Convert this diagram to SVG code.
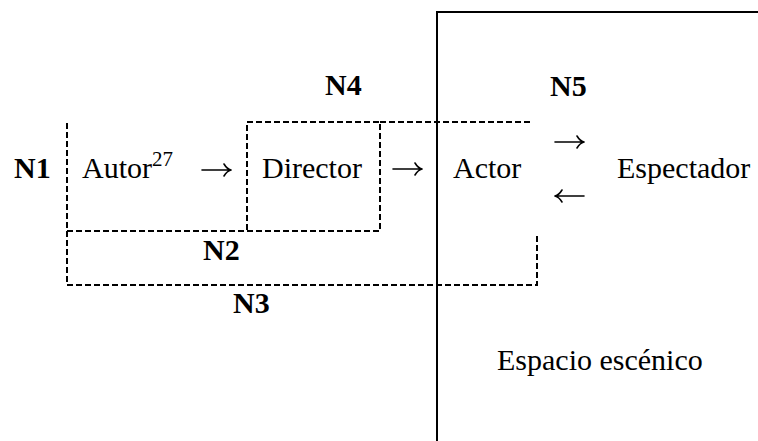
<svg xmlns="http://www.w3.org/2000/svg" width="758" height="441" viewBox="0 0 758 441">
<style>
.t{font-family:"Liberation Serif","Times New Roman",serif;font-size:30px;fill:#000}
.b{font-weight:bold}
.d{fill:none;stroke:#000;stroke-width:2;stroke-dasharray:6 3}
.s{fill:none;stroke:#000;stroke-width:2}
.a{fill:none;stroke:#000;stroke-width:1.6;stroke-linecap:round;stroke-linejoin:round}
</style>
<rect width="758" height="441" fill="#fff"/>
<g id="stage">
<path class="s" d="M437,441 V12 H758"/>
<text class="t" x="497" y="370">Espacio escénico</text>
</g>
<g id="levels">
<path class="d" d="M67,123 V285 H537 V233"/>
<path class="d" d="M67,231 H380 V122 H247 V231"/>
<path class="d" d="M380,122 H533"/>
</g>
<g id="n1"><text class="t b" x="14" y="178">N1</text></g>
<g id="n2"><text class="t b" x="203" y="260">N2</text></g>
<g id="n3"><text class="t b" x="233" y="313">N3</text></g>
<g id="n4"><text class="t b" x="325" y="95">N4</text></g>
<g id="n5"><text class="t b" x="550" y="96">N5</text></g>
<g id="autor"><text class="t" x="82" y="178">Autor<tspan font-size="21" dy="-12">27</tspan></text></g>
<g id="director"><text class="t" x="262" y="178">Director</text></g>
<g id="actor"><text class="t" x="453" y="178">Actor</text></g>
<g id="espectador"><text class="t" x="617" y="178">Espectador</text></g>
<g id="connectors">
<path class="a" d="M202,170 H231 M224,164 Q227,169 231,170 Q227,171 224,176"/>
<path class="a" d="M393,169 H422 M415,163 Q418,168 422,169 Q418,170 415,175"/>
<path class="a" d="M555,142 H584 M577,136 Q580,141 584,142 Q580,143 577,148"/>
<path class="a" d="M555,196 H584 M562,190 Q559,195 555,196 Q559,197 562,202"/>
</g>
</svg>
